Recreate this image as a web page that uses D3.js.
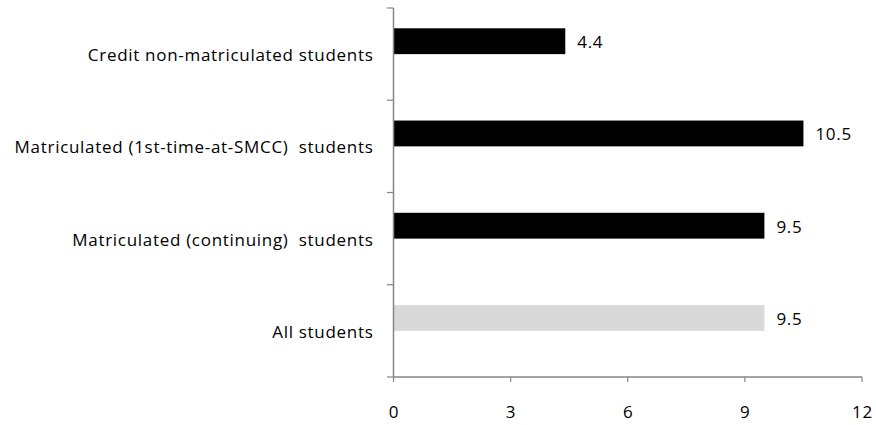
<!DOCTYPE html>
<html><head><meta charset="utf-8">
<script src="https://cdn.jsdelivr.net/npm/d3@7"></script>
<style>body{margin:0;background:#fff}svg{display:block}text{font-family:"Open Sans",sans-serif;fill:#000;letter-spacing:0.7px}</style>
</head><body>
<script>
const categories = ["Credit non-matriculated students","Matriculated (1st-time-at-SMCC)  students","Matriculated (continuing)  students","All students"];
const values = [4.4, 10.5, 9.5, 9.5];
const barColors = ["#000000","#000000","#000000","#d9d9d9"];
const xTicks = [0,3,6,9,12];

const W=876,H=425;
const svg=d3.select("body").append("svg").attr("width",W).attr("height",H);
const x=d3.scaleLinear().domain([0,12]).range([393.5,862]);
const y=d3.scaleBand().domain(categories).range([8,377]).padding(0);
const bw=y.bandwidth(), bh=bw*0.28;
const axisColor="#868686";
const fs="17px";

svg.selectAll("rect.bar").data(categories).enter().append("rect")
  .attr("x",x(0)).attr("y",d=>y(d)+bw/2-bh).attr("width",(d,i)=>x(values[i])-x(0)).attr("height",bh)
  .attr("fill",(d,i)=>barColors[i]);

svg.selectAll("text.val").data(categories).enter().append("text")
  .attr("x",(d,i)=>x(values[i])+12).attr("y",d=>y(d)+bw/2-bh/2+1).attr("dy","0.35em")
  .style("font-size",fs).text((d,i)=>values[i]);

// y axis
const yBounds=[...categories.map(c=>y(c)),y.range()[1]];
svg.append("line").attr("x1",x(0)).attr("x2",x(0)).attr("y1",8).attr("y2",377).attr("stroke",axisColor).attr("stroke-width",1.5);
svg.selectAll("line.yt").data(yBounds).enter().append("line")
  .attr("x1",387).attr("x2",x(0)).attr("y1",d=>d).attr("y2",d=>d).attr("stroke",axisColor).attr("stroke-width",1.2);
svg.selectAll("text.cat").data(categories).enter().append("text")
  .attr("x",373.5).attr("y",d=>y(d)+bw/2+1).attr("dy","0.35em").attr("text-anchor","end")
  .style("font-size",fs).style("white-space","pre").text(d=>d);

// x axis
svg.append("line").attr("x1",x(0)).attr("x2",x(12)).attr("y1",377).attr("y2",377).attr("stroke",axisColor).attr("stroke-width",1.5);
svg.selectAll("line.xt").data(xTicks).enter().append("line")
  .attr("x1",d=>x(d)).attr("x2",d=>x(d)).attr("y1",377).attr("y2",382).attr("stroke",axisColor).attr("stroke-width",1.2);
svg.selectAll("text.xl").data(xTicks).enter().append("text")
  .attr("x",d=>x(d)+0.4).attr("y",412).attr("dy","0.35em").attr("text-anchor","middle")
  .style("font-size",fs).text(d=>d);
</script>
</body></html>
